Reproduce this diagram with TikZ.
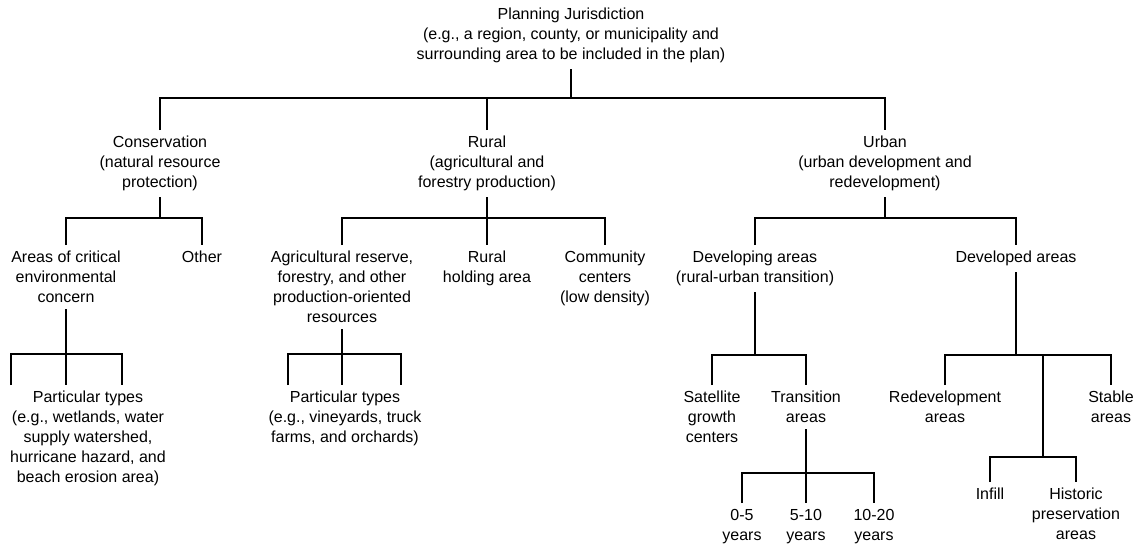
\documentclass[tikz,border=0pt]{standalone}
\usepackage{fontspec}
\setmainfont{Liberation Sans}
\usepackage{tikz}
\usetikzlibrary{calc}
\tikzset{
    item/.style={
        align=center,
        anchor=north,
        inner sep=6pt,
        font=\fontsize{16}{20}\selectfont
    },
    branch/.style={
        draw,
        line width=2.2pt
    }
}

\begin{document}
\begin{tikzpicture}[x=1pt,y=-1pt]
  \useasboundingbox (0,0) rectangle (1141,549);

  % Top level
  \node[item] (root) at (571,2) {Planning Jurisdiction\\(e.g., a region, county, or municipality and\\surrounding area to be included in the plan)};
  \node[item] (cons) at (160,130) {Conservation\\(natural resource\\protection)};
  \node[item] (rural) at (487,130) {Rural\\(agricultural and\\forestry production)};
  \node[item] (urban) at (885,130) {Urban\\(urban development and\\redevelopment)};
  \coordinate (j0) at (571,98);

  \draw[branch] (root.south) -- (j0);
  \draw[branch] (cons.north) |- (j0) -| (urban.north);
  \draw[branch] (rural.north) -- (rural.north |- j0);

  % Conservation
  \node[item] (areas) at (66,245) {Areas of critical\\environmental\\concern};
  \node[item] (other) at (202,245) {Other};
  \node[item] (types1) at (88,385) {Particular types\\(e.g., wetlands, water\\supply watershed,\\hurricane hazard, and\\beach erosion area)};
  \coordinate (j1) at (160,218);
  \coordinate (j2a) at (11,354);
  \coordinate (j2b) at (122,354);

  \draw[branch] (cons.south) -- (j1);
  \draw[branch] (areas.north) |- (j1) -| (other.north);
  \draw[branch] (areas.south) -- (areas.south |- types1.north);
  \draw[branch] (j2a |- types1.north) |- (j2b) -- (j2b |- types1.north);

  % Rural
  \node[item] (agri) at (342,245) {Agricultural reserve,\\forestry, and other\\production-oriented\\resources};
  \node[item] (holding) at (487,245) {Rural\\holding area};
  \node[item] (community) at (605,245) {Community\\centers\\(low density)};
  \node[item] (types2) at (345,385) {Particular types\\(e.g., vineyards, truck\\farms, and orchards)};
  \coordinate (j3) at (487,218);
  \coordinate (j4a) at (288,354);
  \coordinate (j4b) at (401,354);

  \draw[branch] (rural.south) -- (holding.north);
  \draw[branch] (agri.north) |- (j3) -| (community.north);
  \draw[branch] (agri.south) -- (agri.south |- types2.north);
  \draw[branch] (j4a |- types2.north) |- (j4b) -- (j4b |- types2.north);

  % Urban
  \node[item] (developing) at (755,245) {Developing areas\\(rural-urban transition)};
  \node[item] (developed) at (1016,245) {Developed areas};
  \coordinate (j5) at (885,218);

  \draw[branch] (urban.south) -- (j5);
  \draw[branch] (developing.north) |- (j5) -| (developed.north);

  % Developing areas
  \node[item] (satellite) at (712,385) {Satellite\\growth\\centers};
  \node[item] (transition) at (806,385) {Transition\\areas};
  \node[item] (y0) at (742,503) {0-5\\years};
  \node[item] (y5) at (806,503) {5-10\\years};
  \node[item] (y10) at (874,503) {10-20\\years};
  \coordinate (j6) at (755,355);
  \coordinate (j7) at (806,473);

  \draw[branch] (developing.south) -- (j6);
  \draw[branch] (satellite.north) |- (j6) -| (transition.north);
  \draw[branch] (transition.south) -- (y5.north);
  \draw[branch] (y0.north) |- (j7) -| (y10.north);

  % Developed areas
  \node[item] (redevel) at (945,385) {Redevelopment\\areas};
  \node[item] (stable) at (1111,385) {Stable\\areas};
  \node[item] (infill) at (990,482) {Infill};
  \node[item] (historic) at (1076,482) {Historic\\preservation\\areas};
  \coordinate (j8) at (1016,355);
  \coordinate (j9) at (1043,457);

  \draw[branch] (developed.south) -- (j8);
  \draw[branch] (redevel.north) |- (j8) -| (stable.north);
  \draw[branch] (j9 |- j8) -- (j9);
  \draw[branch] (infill.north) |- (j9) -| (historic.north);
\end{tikzpicture}
\end{document}
